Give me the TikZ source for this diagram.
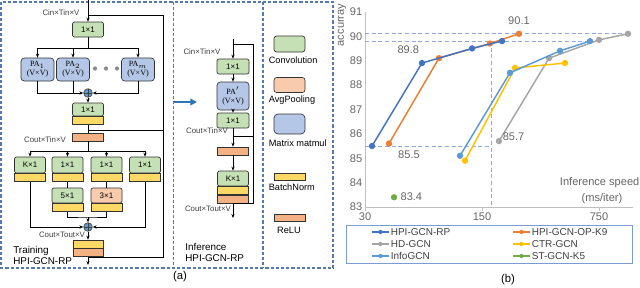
\documentclass[tikz,border=0pt]{standalone}
\usepackage{fontspec}
\setmainfont{Liberation Sans}
\newfontfamily\pafont{Liberation Serif}
\usetikzlibrary{positioning,arrows.meta,calc}
\definecolor{convg}{RGB}{197,224,180}
\definecolor{poolc}{RGB}{248,203,173}
\definecolor{matc}{RGB}{180,199,231}
\definecolor{bnc}{RGB}{255,217,102}
\definecolor{reluc}{RGB}{244,177,131}
\definecolor{addc}{RGB}{91,155,213}
\definecolor{panelblue}{RGB}{84,120,180}
\definecolor{arrowblue}{RGB}{46,117,182}
\definecolor{refblue}{RGB}{143,170,220}
\definecolor{legblue}{RGB}{122,156,211}
\definecolor{hpirp}{RGB}{68,114,196}
\definecolor{hpiop}{RGB}{237,125,49}
\definecolor{hdgcn}{RGB}{165,165,165}
\definecolor{ctrgcn}{RGB}{255,192,0}
\definecolor{infogcn}{RGB}{91,155,213}
\definecolor{stgcn}{RGB}{112,173,71}

\begin{document}
\begin{tikzpicture}[x=0.75pt, y=-0.75pt, line width=0.5pt,
  conv/.style={draw=black!80, fill=convg, rounded corners=1.5pt, minimum width=23.25pt, minimum height=11.25pt, inner sep=0pt, font=\fontsize{6}{6.5}\selectfont},
  pool/.style={conv, fill=poolc},
  matm/.style={conv, fill=matc, rounded corners=2.5pt, align=center, minimum width=24.75pt, minimum height=17.25pt, font=\pafont\fontsize{6}{6.8}\selectfont},
  bnbar/.style={draw=black!80, fill=bnc, minimum width=23.25pt, minimum height=6pt, inner sep=0pt},
  relubar/.style={bnbar, fill=reluc},
  addn/.style={circle, draw=black!70, fill=addc, minimum size=6.5pt, inner sep=0pt,
    path picture={\draw[black!75, line width=0.4pt] (path picture bounding box.north) -- (path picture bounding box.south) (path picture bounding box.west) -- (path picture bounding box.east);}},
  arr/.style={-{Stealth[length=3pt,width=2.4pt]}},
  dimlab/.style={font=\fontsize{5.9}{6.5}\selectfont, text=black!75, inner sep=0pt},
  caplab/.style={font=\fontsize{7.4}{8.4}\selectfont, align=left, anchor=west, inner sep=0pt},
  keylab/.style={font=\fontsize{6.9}{8}\selectfont, anchor=west, inner sep=0pt},
  panel/.style={panelblue, dashed, dash pattern=on 2.4pt off 1.5pt, line width=0.8pt},
  tick/.style={font=\fontsize{8.3}{9.3}\selectfont, text=black!60, inner sep=1pt},
  ref/.style={refblue, dash pattern=on 3pt off 2pt, line width=0.7pt},
  ser/.style={line width=1.1pt, mark=*, mark size=1.8pt},
  leg/.style={font=\fontsize{7.5}{8.5}\selectfont, text=black!75, anchor=west, inner sep=0pt}]
  \useasboundingbox (0,0) rectangle (640,287);

  % panels
  \draw[panel] (1,2) rectangle (333,268);
  \draw[panel] (173.5,2) -- (173.5,268);
  \draw[panel] (263,2) -- (263,268);

  % training block
  \coordinate (tin) at (88,0);
  \coordinate (jtop) at (88,15);
  \coordinate (rtop) at (163,15);
  \node[conv] (t11) at (88,29.5) {1×1};
  \node[matm] (pa1) at (37.5,69.5) {PA$_1$\\(V×V)};
  \node[matm] (pa2) at (73,69.5) {PA$_2$\\(V×V)};
  \node[matm] (pam) at (138,69.5) {PA$_m$\\(V×V)};
  \foreach \x in {95,106,117}
    \fill[black!45] (\x,68.5) circle (1.6pt);
  \node[addn] (add1) at (88,93) {};
  \node[conv, minimum height=9.75pt] (t12) at (88,109.5) {1×1};
  \node[bnbar, below=0pt of t12] (bn1) {};
  \coordinate (jmid) at (88,130);
  \coordinate (rmid) at (163,130);
  \node[relubar] (rl1) at (88,137) {};
  \coordinate (j2) at (88,151);
  \node[conv, minimum height=12pt] (tk) at (30,165) {K×1};
  \node[conv, minimum height=12pt] (ta) at (67.5,165) {1×1};
  \node[conv, minimum height=12pt] (tb) at (106.5,165) {1×1};
  \node[conv, minimum height=12pt] (tc) at (145,165) {1×1};
  \foreach \b in {tk,ta,tb,tc}
    \node[bnbar, below=0pt of \b] (bn\b) {};
  \node[conv] (t5) at (67.5,195.5) {5×1};
  \node[pool] (t3) at (106.5,195.5) {3×1};
  \node[bnbar, below=0pt of t5] (bnt5) {};
  \node[bnbar, below=0pt of t3] (bnt3) {};
  \coordinate (m2) at (88,217);
  \node[addn] (add2) at (88,227) {};
  \node[bnbar, minimum width=22.5pt] (fbn) at (88,244) {};
  \node[relubar, minimum width=22.5pt, below=0pt of fbn] (frl) {};
  \coordinate (jbot) at (88,257);
  \coordinate (rbot) at (163,257);
  \coordinate (tout) at (88,265);

  \draw[arr] (tin) -- (t11);
  \draw (jtop) -- (rtop) -- (rbot) -- (jbot);
  \draw (jmid) -- (rmid);
  \draw (t11) -- (88,48) coordinate (j1);
  \foreach \p in {pa1,pa2,pam}
    \draw[arr] (j1) -| (\p.north);
  \draw[arr] (pa1.south) |- (add1.west);
  \draw (pa2.south) -- (pa2.south |- add1);
  \draw[arr] (pam.south) |- (add1.east);
  \draw[arr] (add1) -- (t12);
  \draw (bn1) -- (rl1);
  \draw (rl1) -- (j2);
  \foreach \b in {tk,ta,tb,tc}
    \draw[arr] (j2) -| (\b.north);
  \draw (bnta) -- (t5);
  \draw (bntb) -- (t3);
  \draw (bnt5.south) |- (m2) -| (bnt3.south);
  \draw[arr] (m2) -- (add2);
  \draw[arr] (bntk.south) |- (add2.west);
  \draw[arr] (bntc.south) |- (add2.east);
  \draw[arr] (add2) -- (fbn);
  \draw[arr] (frl) -- (tout);

  \node[dimlab] at (61,13) {Cin×Tin×V};
  \node[dimlab] at (45,140) {Cout×Tin×V};
  \node[dimlab] at (62,235) {Cout×Tout×V};
  \node[caplab] at (13,255.5) {Training\\HPI-GCN-RP};

  % inference block
  \coordinate (pa) at (174,102);
  \coordinate (pb) at (197,102);
  \draw[arrowblue, line width=1.5pt, -{Triangle[length=5pt,width=5pt]}] (pa) -- (pb);
  \coordinate (iin) at (233,39);
  \coordinate (ij1) at (233,44);
  \coordinate (ir1) at (253,44);
  \node[conv, minimum width=24pt] (i11) at (233,66.5) {1×1};
  \node[matm, minimum width=24pt, minimum height=21pt] (ipa) at (233,96) {PA$'$\\(V×V)};
  \node[conv, minimum width=24pt] (i12) at (233,120.5) {1×1};
  \coordinate (ijm) at (233,136);
  \coordinate (irm) at (253,136);
  \node[relubar] (irl) at (233,151) {};
  \node[conv] (ik) at (233,178.5) {K×1};
  \node[bnbar, below=0pt of ik] (ibn) {};
  \node[relubar, below=0pt of ibn] (irl2) {};
  \coordinate (ijb) at (233,203);
  \coordinate (irb) at (253,203);
  \coordinate (iout) at (233,218);

  \draw[arr] (iin) -- (i11);
  \draw (ij1) -- (ir1) -- (irb) -- (ijb);
  \draw (ijm) -- (irm);
  \draw[arr] (i11) -- (ipa);
  \draw[arr] (ipa) -- (i12);
  \draw[arr] (i12) -- (irl);
  \draw[arr] (irl) -- (ik);
  \draw[arr] (irl2) -- (iout);

  \node[dimlab] at (202,52) {Cin×Tin×V};
  \node[dimlab] at (207,131) {Cout×Tin×V};
  \node[dimlab] at (208,209) {Cout×Tout×V};
  \node[caplab] at (185,252.5) {Inference\\HPI-GCN-RP};

  % key
  \node[conv, minimum width=23.25pt, minimum height=12pt, rounded corners=2pt] (kconv) at (289.5,44) {};
  \node[pool, minimum width=23.25pt, rounded corners=2pt] (kpool) at (289.5,85) {};
  \node[matm, minimum width=23.25pt, minimum height=15pt, rounded corners=3pt] (kmat) at (289.5,124) {};
  \node[bnbar, minimum height=5.25pt] (kbn) at (290,176.5) {};
  \node[relubar, minimum height=5.25pt] (krelu) at (290,217.5) {};
  \node[keylab] (lconv) at (268.5,60) {Convolution};
  \node[keylab] (lpool) at (268.5,100) {AvgPooling};
  \node[keylab] (lmat) at (268.5,143) {Matrix matmul};
  \node[keylab] (lbn) at (268.5,187) {BatchNorm};
  \node[keylab, anchor=center] (lrelu) at (289,230) {ReLU};

  \node[font=\fontsize{8.5}{9.5}\selectfont] (capa) at (180,277) {(a)};

  % chart
  \begin{scope}[shift={(365,207)}, x=87.75pt, y=18.3pt]
    \draw[black!25] (0,0) -- (0,8);
    \draw[black!25] (0,0) -- (2.29,0);
    \foreach \t/\l in {0/30,1/150,2/750} {
      \draw[black!25] (\t,0) -- (\t,-0.15);
      \node[tick, anchor=north] at (\t,-0.18) {\l};
    }
    \foreach \v in {83,...,91}
      \node[tick, anchor=east] at (-0.01,\v-83) {\v};
    \node[tick, rotate=90] at (-0.197,7.46) {accurray};

    \draw[ref] (0,7.1) -- (2.248,7.1);
    \draw[ref] (0,6.8) -- (2.0,6.8);
    \draw[ref] (0,2.5) -- (1.077,2.5);
    \draw[ref] (1.077,6.8) -- (1.077,0);

    \draw[ser, hdgcn] plot coordinates {(1.145,2.7) (1.573,6.1) (2.0,6.85) (2.248,7.1)};
    \draw[ser, ctrgcn] plot coordinates {(0.855,1.9) (1.282,5.7) (1.709,5.9)};
    \draw[ser, infogcn] plot coordinates {(0.812,2.1) (1.239,5.5) (1.667,6.4) (1.923,6.8)};
    \draw[ser, hpiop] plot coordinates {(0.205,2.6) (0.632,6.1) (1.068,6.7) (1.316,7.1)};
    \draw[ser, hpirp] plot coordinates {(0.06,2.5) (0.487,5.9) (0.915,6.5) (1.171,6.8)};
    \draw[ser, stgcn] plot coordinates {(0.248,0.4)};

    \node[tick] at (0.37,6.43) {89.8};
    \node[tick] at (0.376,2.13) {85.5};
    \node[tick] at (1.316,7.62) {90.1};
    \node[tick] at (1.27,2.87) {85.7};
    \node[tick, anchor=west] at (0.29,0.41) {83.4};
  \end{scope}
  \node[tick, anchor=east] at (641,183) {Inference speed};
  \node[tick] at (602,199) {(ms/iter)};

  \draw[legblue, line width=0.7pt] (346,225) rectangle (632,263);
  \foreach \n/\c/\x/\y in {HPI-GCN-RP/hpirp/372/232, HPI-GCN-OP-K9/hpiop/513/232,
      HD-GCN/hdgcn/372/244, CTR-GCN/ctrgcn/513/244,
      InfoGCN/infogcn/372/256, ST-GCN-K5/stgcn/513/256} {
    \draw[\c, line width=1.1pt] (\x,\y) -- (\x+17,\y);
    \fill[\c] (\x+8.5,\y) circle (1.6pt);
    \node[leg] at (\x+18.5,\y) {\n};
  }

  \node[font=\fontsize{8.5}{9.5}\selectfont] (capb) at (508,280) {(b)};
\end{tikzpicture}
\end{document}
